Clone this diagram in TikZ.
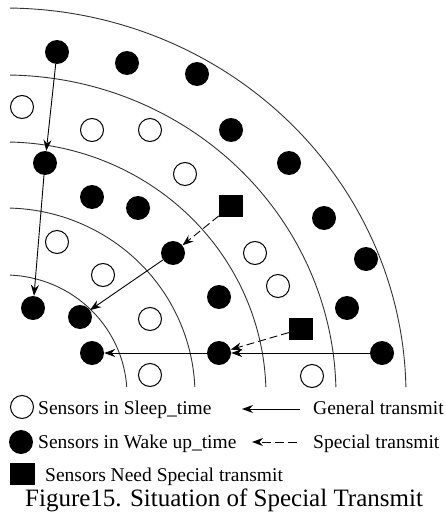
\documentclass[tikz,border=0pt]{standalone}
\usepackage{fontspec}
\setmainfont{Liberation Serif}
\usetikzlibrary{arrows.meta}
\begin{document}
\begin{tikzpicture}[x=1pt,y=-1pt,
  wake/.style={circle,fill=black,minimum size=24pt,inner sep=0pt},
  sleep/.style={circle,draw=black,line width=1pt,fill=white,minimum size=23pt,inner sep=0pt},
  need/.style={rectangle,fill=black,minimum width=24pt,minimum height=22pt,inner sep=0pt},
  ring/.style={line width=0.9pt,draw=black!80},
  gen/.style={line width=0.9pt,-{Stealth[length=11pt,width=8pt]}},
  spec/.style={gen,dash pattern=on 8pt off 4pt},
  legtext/.style={anchor=base west,inner sep=0pt,font=\fontsize{19.5}{22}\selectfont},
]
\useasboundingbox[fill=white] (0,0) rectangle (446,516);

% concentric rings (slightly elliptical quarter arcs)
\foreach \rx/\ry in {122/120,190/187,261/253,331/320,401/387}{
  \pgfmathsetmacro{\ta}{asin(8/\ry)}
  \pgfmathsetmacro{\tb}{acos(5/\rx)}
  \draw[ring] plot[domain=\ta:\tb,samples=90,smooth,variable=\t]
    ({5+\rx*cos(\t)},{395-\ry*sin(\t)});
}

% sensors awake
\node[wake] (w1)  at (57,52)   {};
\node[wake] (w2)  at (127,63)  {};
\node[wake] (w3)  at (197,74)  {};
\node[wake] (w4)  at (231,130) {};
\node[wake] (w5)  at (289,163) {};
\node[wake] (w6)  at (45,163)  {};
\node[wake] (w7)  at (92,197)  {};
\node[wake] (w8)  at (138,208) {};
\node[wake] (w9)  at (324,218) {};
\node[wake] (w10) at (173,253) {};
\node[wake] (w11) at (366,259) {};
\node[wake] (w12) at (219,297) {};
\node[wake] (w13) at (33,308)  {};
\node[wake] (w14) at (80,317)  {};
\node[wake] (w15) at (347,308) {};
\node[wake] (w16) at (92,353)  {};
\node[wake] (w17) at (219,353) {};
\node[wake] (w18) at (382,353) {};

% sensors asleep
\node[sleep] (s1)  at (22,107)  {};
\node[sleep] (s2)  at (92,130)  {};
\node[sleep] (s3)  at (150,130) {};
\node[sleep] (s4)  at (185,174) {};
\node[sleep] (s5)  at (57,242)  {};
\node[sleep] (s6)  at (103,275) {};
\node[sleep] (s7)  at (255,253) {};
\node[sleep] (s8)  at (278,286) {};
\node[sleep] (s9)  at (150,319) {};
\node[sleep] (s10) at (150,375) {};
\node[sleep] (s11) at (312,376) {};

% sensors needing special transmit
\node[need] (q1) at (231,206) {};
\node[need] (q2) at (301,329) {};

% transmissions
\draw[gen]  (w1)  -- (w6);
\draw[gen]  (w6)  -- (w13);
\draw[spec] (q1)  -- (w10);
\draw[gen]  (w10) -- (w14);
\draw[spec] (q2)  -- (w17);
\draw[gen]  (w18) -- (w17);
\draw[gen]  (w17) -- (w16);

% legend
\node[sleep] (ls) at (22,407) {};
\node[legtext] (lst) at (38,414) {Sensors in Sleep\_time};
\coordinate (g1) at (300,409);
\coordinate (g0) at (242,409);
\draw[gen] (g1) -- (g0);
\node[legtext] (lgt) at (313,414) {General transmit};

\node[wake] (lw) at (21,442) {};
\node[legtext] (lwt) at (38,448) {Sensors in Wake up\_time};
\coordinate (p1) at (297,442);
\coordinate (p0) at (252,442);
\draw[gen,dash pattern=on 9pt off 4pt] (p1) -- (p0);
\node[legtext] (lpt) at (313,448) {Special transmit};

\node[need,minimum width=25pt] (lq) at (22,474) {};
\node[legtext] (lqt) at (45,481) {Sensors Need Special transmit};

\node[anchor=base west,inner sep=0pt,font=\fontsize{25}{28}\selectfont] (cap) at (25,506)
  {Figure15. Situation of Special Transmit};
\end{tikzpicture}
\end{document}
